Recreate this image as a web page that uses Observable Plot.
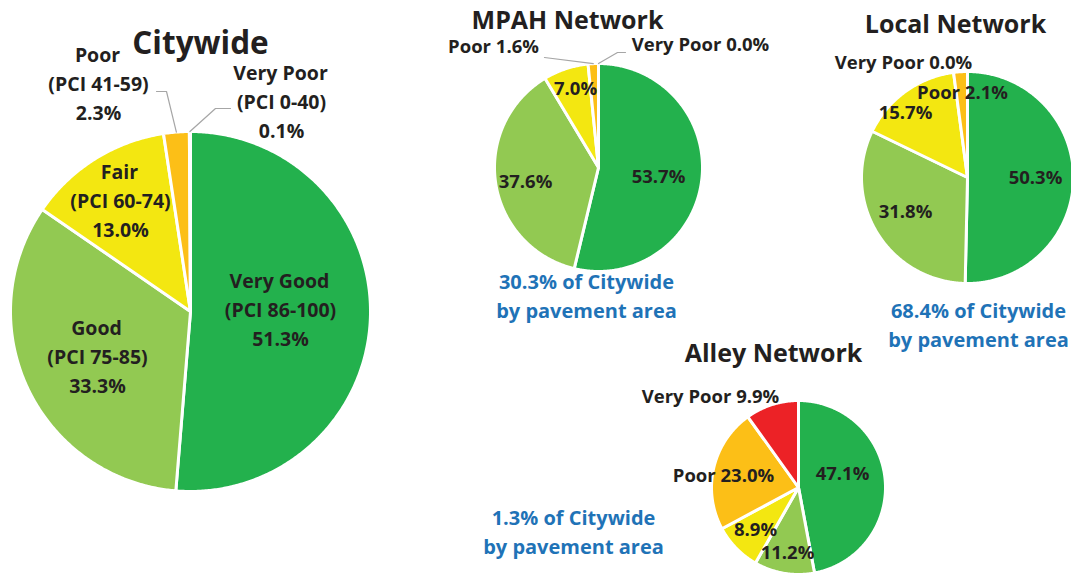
<!DOCTYPE html>
<html>
<head>
<meta charset="utf-8">
<script src="https://cdn.jsdelivr.net/npm/d3@7"></script>
<script src="https://cdn.jsdelivr.net/npm/@observablehq/plot@0.6"></script>
<style>
  html, body { margin: 0; padding: 0; background: #ffffff; }
  #chart svg { display: block; }
</style>
</head>
<body>
<div id="chart"></div>
<script>
// ---------- DATA ----------
const categories = ["Very Good", "Good", "Fair", "Poor", "Very Poor"];
const pciRanges = ["PCI 86-100", "PCI 75-85", "PCI 60-74", "PCI 41-59", "PCI 0-40"];
const citywide = [51.3, 33.3, 13.0, 2.3, 0.1];
const mpah = [53.7, 37.6, 7.0, 1.6, 0.0];
const local = [50.3, 31.8, 15.7, 2.1, 0.0];
const alley = [47.1, 11.2, 8.9, 23.0, 9.9];
const networks = ["MPAH Network", "Local Network", "Alley Network"];
const networkShare = [30.3, 68.4, 1.3];

// ---------- STYLE / LAYOUT ----------
const W = 1071, H = 573;
const colors = ["#23b14d", "#92c952", "#f3e711", "#fcbf17", "#ec2226"];
const ink = "#231f20";
const blue = "#1f73b7";
const font = "'Open Sans', Lato, sans-serif";

const pies = [
  {key: "city",  title: "Citywide",  values: citywide, cx: 190, cy: 311, r: 180},
  {key: "mpah",  title: networks[0], values: mpah,     cx: 598, cy: 167, r: 104},
  {key: "local", title: networks[1], values: local,    cx: 967, cy: 177, r: 106},
  {key: "alley", title: networks[2], values: alley,    cx: 798, cy: 487, r: 87}
];

const pct = v => `${v.toFixed(1)}%`;

// ---------- SLICES ----------
const slicePolys = [];
for (const p of pies) {
  const arcs = d3.pie().sort(null).value(d => d)(p.values);
  arcs.forEach((a, i) => {
    const pts = [{x: p.cx, y: p.cy}];
    const n = Math.max(2, Math.ceil((a.endAngle - a.startAngle) / (Math.PI / 360)));
    for (let k = 0; k <= n; k++) {
      const t = a.startAngle + (a.endAngle - a.startAngle) * k / n;
      pts.push({x: p.cx + p.r * Math.sin(t), y: p.cy - p.r * Math.cos(t)});
    }
    slicePolys.push({pie: p.key, i, color: colors[i], pts, arc: a});
  });
}
function midPoint(pieKey, i) {
  const p = pies.find(d => d.key === pieKey);
  const a = slicePolys.find(d => d.pie === pieKey && d.i === i).arc;
  const m = (a.startAngle + a.endAngle) / 2;
  return {x: p.cx + p.r * Math.sin(m), y: p.cy - p.r * Math.cos(m)};
}

// ---------- LABELS ----------
const titles = [
  {text: "Citywide", x: 200, y: 43, size: 31.5},
  {text: networks[0], x: 567, y: 20, size: 25},
  {text: networks[1], x: 955, y: 24, size: 25},
  {text: networks[2], x: 773, y: 353, size: 25}
];

const bigLabels = [];
const cityPos = [
  [279, 281], [96, 328], [119, 172], [97, 55], [280, 73]
];
categories.forEach((c, i) => {
  const [x, y] = cityPos[i];
  bigLabels.push({text: c, x, y});
  bigLabels.push({text: `(${pciRanges[i]})`, x: x + 1, y: y + 29});
  bigLabels.push({text: pct(citywide[i]), x: x + 1, y: y + 58});
});

const smallLabels = [
  {text: `${categories[3]} ${pct(mpah[3])}`, x: 493, y: 47},
  {text: `${categories[4]} ${pct(mpah[4])}`, x: 700, y: 45},
  {text: pct(mpah[2]), x: 575, y: 89},
  {text: pct(mpah[1]), x: 525, y: 182},
  {text: pct(mpah[0]), x: 658, y: 177},
  {text: `${categories[4]} ${pct(local[4])}`, x: 903, y: 63},
  {text: `${categories[3]} ${pct(local[3])}`, x: 962, y: 93},
  {text: pct(local[2]), x: 905, y: 113},
  {text: pct(local[1]), x: 905, y: 212},
  {text: pct(local[0]), x: 1035, y: 178},
  {text: `${categories[4]} ${pct(alley[4])}`, x: 710, y: 397},
  {text: `${categories[3]} ${pct(alley[3])}`, x: 723, y: 476},
  {text: pct(alley[0]), x: 842, y: 474},
  {text: pct(alley[2]), x: 755, y: 530},
  {text: pct(alley[1]), x: 787, y: 553}
];

const captionPos = [[586, 282], [978, 311], [573, 518]];
const captions = [];
networkShare.forEach((s, i) => {
  const [x, y] = captionPos[i];
  captions.push({text: `${pct(s)} of Citywide`, x, y});
  captions.push({text: "by pavement area", x, y: y + 29});
});

// ---------- LEADER LINES ----------
const leaders = [];
function leader(id, pieKey, i, rest) {
  const s = midPoint(pieKey, i);
  leaders.push({id, x: s.x, y: s.y});
  rest.forEach(([x, y]) => leaders.push({id, x, y}));
}
leader("c3", "city", 3, [[166, 91], [156, 91]]);
leader("c4", "city", 4, [[215, 108], [230, 108]]);
leader("m3", "mpah", 3, [[544, 57]]);
leader("m4", "mpah", 4, [[617, 52], [625, 52]]);

// ---------- PLOT ----------
const marks = [];
for (const s of slicePolys) {
  marks.push(Plot.line(s.pts, {
    x: "x", y: "y", curve: "linear-closed",
    fill: s.color, stroke: "#ffffff", strokeWidth: 3, strokeLinejoin: "round"
  }));
}
marks.push(Plot.line(leaders, {x: "x", y: "y", z: "id", stroke: "#a6a6a6", strokeWidth: 1.2}));
const txt = (data, size, fill) => Plot.text(data, {
  x: "x", y: "y", text: "text", fontSize: size, fontWeight: "bold",
  fontFamily: font, fill, textAnchor: "middle", lineAnchor: "middle"
});
for (const t of titles) marks.push(txt([t], t.size, ink));
marks.push(txt(bigLabels, 19.5, ink));
marks.push(txt(smallLabels, 18.5, ink));
marks.push(txt(captions, 20, blue));

const chart = Plot.plot({
  width: W, height: H,
  margin: 0,
  x: {type: "linear", domain: [0, W], range: [0, W], axis: null},
  y: {type: "linear", domain: [0, H], range: [0, H], axis: null},
  style: {background: "#ffffff", fontFamily: font},
  marks
});
document.getElementById("chart").appendChild(chart);
</script>
</body>
</html>
